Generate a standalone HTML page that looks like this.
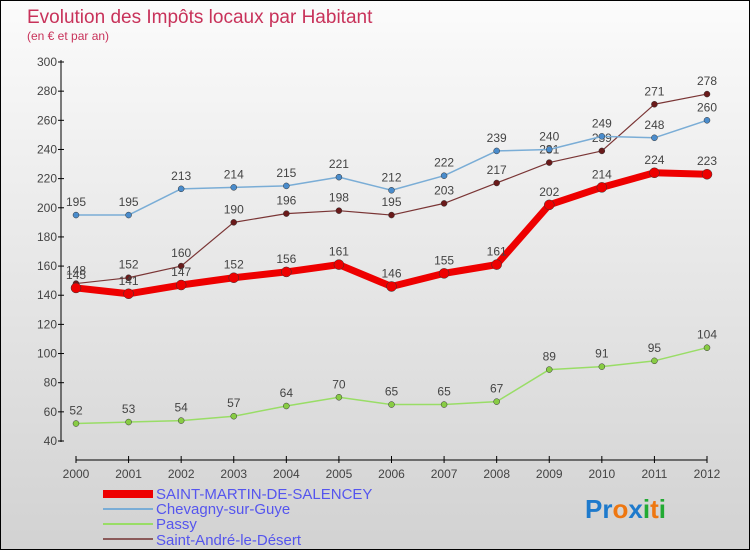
<!DOCTYPE html>
<html><head><meta charset="utf-8"><style>
body{margin:0}
#c{width:750px;height:550px;position:relative;font-family:"Liberation Sans",sans-serif;background:linear-gradient(#fbfbfb,#d2d2d2);box-sizing:border-box;border:1px solid #000;overflow:hidden}
</style></head><body>
<div id="c">
<svg id="s" width="750" height="550" style="position:absolute;left:0;top:0">
<text x="26" y="22" font-size="19" fill="#c8325a">Evolution des Impôts locaux par Habitant</text>
<text x="26" y="39" font-size="12" fill="#c8325a">(en € et par an)</text>
<g id="axes"></g><g id="series"></g>
<g font-size="15" fill="#5555ee">
<rect x="102" y="489" width="50" height="8" fill="#e00"/>
<text x="155" y="498">SAINT-MARTIN-DE-SALENCEY</text>
<rect x="102" y="507" width="50" height="2" fill="#7aadd6"/>
<text x="155" y="513">Chevagny-sur-Guye</text>
<rect x="102" y="522" width="50" height="2" fill="#99dd66"/>
<text x="155" y="528">Passy</text>
<rect x="102" y="537" width="50" height="2" fill="#8b5a5a"/>
<text x="155" y="544">Saint-André-le-Désert</text>
</g>
<text x="584" y="517" font-size="26" font-weight="bold"><tspan fill="#1e7acc">Pr</tspan><tspan fill="#ee7711">o</tspan><tspan fill="#1e7acc">x</tspan><tspan fill="#22aa33">i</tspan><tspan fill="#ee7711">t</tspan><tspan fill="#22aa33">i</tspan></text>
</svg>
</div>
<script>
const years=[2000,2001,2002,2003,2004,2005,2006,2007,2008,2009,2010,2011,2012];
const yTicks=[40,60,80,100,120,140,160,180,200,220,240,260,280,300];
const saintMartin=[145,141,147,152,156,161,146,155,161,202,214,224,223];
const chevagny=[195,195,213,214,215,221,212,222,239,240,249,248,260];
const passy=[52,53,54,57,64,70,65,65,67,89,91,95,104];
const saintAndre=[148,152,160,190,196,198,195,203,217,231,239,271,278];
const NS="http://www.w3.org/2000/svg";
function X(i){return 75+i*(706-75)/12;}
function Y(v){return 440-(v-40)*(440-61)/260;}
function mk(t,a,p){const e=document.createElementNS(NS,t);for(const k in a)e.setAttribute(k,a[k]);p.appendChild(e);return e;}
const ax=document.getElementById('axes');
const yl=mk('line',{x1:60,y1:59,x2:60,y2:441,stroke:'#000'},ax);


yTicks.forEach(v=>{
 mk('line',{x1:57,x2:63,y1:Y(v),y2:Y(v),stroke:'#000'},ax);
 const t=mk('text',{x:56,y:Y(v)+4,'font-size':12,fill:'#444','text-anchor':'end'},ax);t.textContent=v;
 
 
});
const xl=mk('line',{x1:75,y1:459,x2:706,y2:459,stroke:'#000'},ax);


years.forEach((y,i)=>{
 mk('line',{x1:X(i),x2:X(i),y1:455,y2:462,stroke:'#000'},ax);
 const t=mk('text',{x:X(i),y:477,'font-size':12,fill:'#444','text-anchor':'middle'},ax);t.textContent=y;
 
 
});
const sg=document.getElementById('series');
function series(data,color,w,dot,name,r){
 const g=mk('g',{},sg);
 
 
 const pl=mk('polyline',{points:data.map((v,i)=>X(i)+','+Y(v)).join(' '),fill:'none',stroke:color,'stroke-width':w,'stroke-linejoin':'round'},g);
 
 
 data.forEach((v,i)=>{
  const c=mk('circle',{cx:X(i),cy:Y(v),r:r,fill:dot,stroke:'#333','stroke-width':0.5},g);
  
  
  const t=mk('text',{x:X(i),y:Y(v)-9,'font-size':12,fill:'#444','text-anchor':'middle'},g);t.textContent=v;
  
  
 });
}
series(passy,'#99dd66',1.5,'#88cc44','passy-series',3);
series(saintAndre,'#7a3535',1.2,'#6a1a1a','saint-andre-series',3);
series(chevagny,'#7aadd6',1.5,'#4a8ccc','chevagny-series',3);
series(saintMartin,'#e00',7,'#e00','saint-martin-series',5);
</script>
</body></html>
